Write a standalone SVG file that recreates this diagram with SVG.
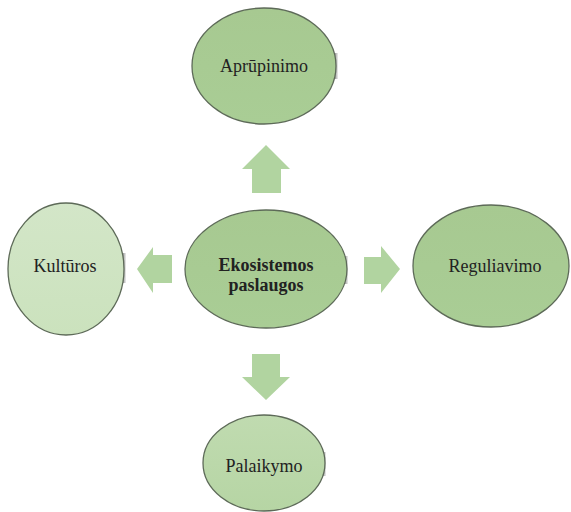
<svg xmlns="http://www.w3.org/2000/svg" width="571" height="512" viewBox="0 0 571 512">
<style>
.node{stroke:#5d6a58;stroke-width:1.3}
.lbl{font-family:"Liberation Serif","Times New Roman",serif;font-size:18px;fill:#222;text-anchor:middle}
.bold{font-weight:bold}
.arrow{fill:#b1d4a0}
.shade{fill:url(#gs)}
</style>
<defs>
<linearGradient id="gd" x1="0" y1="0" x2="0" y2="1">
<stop offset="0" stop-color="#a7c991"/><stop offset="1" stop-color="#a9cd95"/>
</linearGradient>
<linearGradient id="gl" x1="0" y1="0" x2="0" y2="1">
<stop offset="0" stop-color="#d3e6c8"/><stop offset="1" stop-color="#cbe2bd"/>
</linearGradient>
<linearGradient id="gm" x1="0" y1="0" x2="0" y2="1">
<stop offset="0" stop-color="#c0dbb0"/><stop offset="1" stop-color="#b6d5a4"/>
</linearGradient>
<linearGradient id="gs" x1="0" y1="0" x2="1" y2="0">
<stop offset="0" stop-color="#9a9a9a"/><stop offset="1" stop-color="#eeeeee"/>
</linearGradient>
</defs>
<rect width="571" height="512" fill="#ffffff"/>
<g id="connectors">
<polygon class="arrow" points="266,145 290,169 281,169 281,193 252,193 252,169 242,169"/>
<polygon class="arrow" points="400,269 381,246 381,257 364,257 364,284 381,284 381,293"/>
<polygon class="arrow" points="137,269 153,247 153,255 172,255 172,283 153,283 153,293"/>
<polygon class="arrow" points="266,400 290,377 280,377 280,354 252,354 252,377 242,377"/>
</g>
<g id="node-aprupinimo">
<rect class="shade" x="335" y="53" width="3" height="26"/>
<ellipse class="node" cx="264" cy="66" rx="72" ry="58" fill="url(#gd)"/>
<text class="lbl" x="264" y="72">Aprūpinimo</text>
</g>
<g id="node-ekosistemos">
<rect class="shade" x="345" y="256" width="3" height="28"/>
<ellipse class="node" cx="266" cy="269" rx="81" ry="59" fill="url(#gd)"/>
<text class="lbl bold" x="266" y="271">Ekosistemos</text>
<text class="lbl bold" x="266" y="291">paslaugos</text>
</g>
<g id="node-kulturos">
<rect class="shade" x="123" y="253" width="3" height="30"/>
<ellipse class="node" cx="66" cy="269" rx="58" ry="66" fill="url(#gl)"/>
<text class="lbl" x="65" y="272">Kultūros</text>
</g>
<g id="node-reguliavimo">
<ellipse class="node" cx="491" cy="266" rx="78" ry="61" fill="url(#gd)"/>
<text class="lbl" x="495" y="272">Reguliavimo</text>
</g>
<g id="node-palaikymo">
<rect class="shade" x="323" y="452" width="3" height="24"/>
<ellipse class="node" cx="264" cy="463" rx="61" ry="48" fill="url(#gm)"/>
<text class="lbl" x="264" y="472">Palaikymo</text>
</g>
</svg>
